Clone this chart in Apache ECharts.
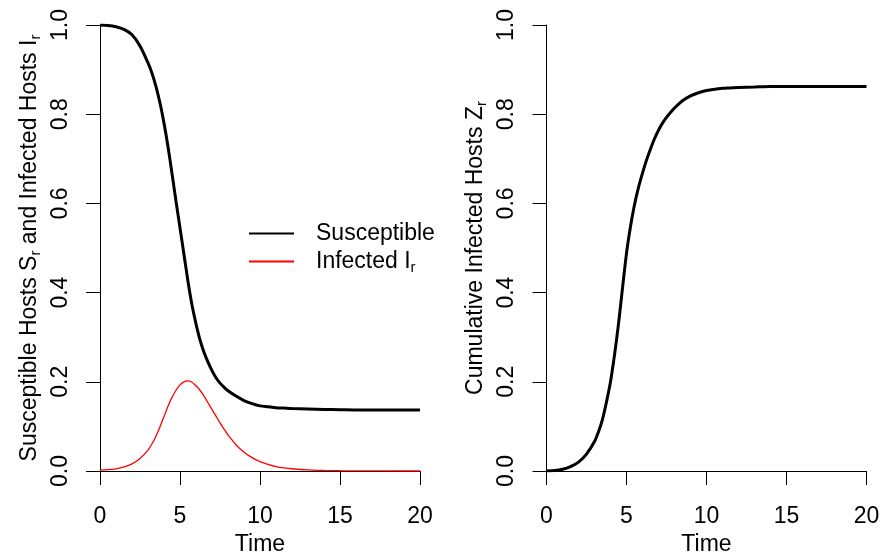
<!DOCTYPE html>
<html>

<head>
    <meta charset="UTF-8">
    <style type="text/css">
        body {
            margin: 0;
            padding: 0;
            overflow: hidden;
            background: #fff
        }

        #chart {
            width: 881px;
            height: 553px
        }
    </style>
</head>

<body>
    <div id="chart"></div>
    <script src="https://cdn.jsdelivr.net/npm/echarts@6.0.0/dist/echarts.min.js"></script>
    <script>
        // time points (denser where the curves are steep)
        let TIME = [0, 0.5, 1, 1.5, 2, 2.5, 3,
            3.25, 3.5, 3.75, 4, 4.25, 4.5, 4.75, 5, 5.25, 5.5, 5.75, 6, 6.25, 6.5, 6.75, 7, 7.25, 7.5, 7.75, 8,
            8.5, 9, 9.5, 10, 10.5, 11, 11.5, 12,
            13, 14, 15, 16, 17, 18, 19, 20];
        let SUSCEPTIBLE = [1.000, 0.999, 0.996, 0.990, 0.978, 0.953, 0.915,
            0.892, 0.862, 0.825, 0.780, 0.727, 0.667, 0.605, 0.545, 0.485, 0.425, 0.372, 0.330, 0.294, 0.266, 0.244, 0.225, 0.209, 0.197, 0.188, 0.180,
            0.168, 0.158, 0.151, 0.146, 0.144, 0.142, 0.141, 0.140,
            0.139, 0.138, 0.1375, 0.137, 0.137, 0.137, 0.137, 0.137];
        let INFECTED = [0.002, 0.003, 0.005, 0.009, 0.016, 0.028, 0.047,
            0.061, 0.078, 0.099, 0.122, 0.145, 0.165, 0.181, 0.193, 0.200, 0.202, 0.199, 0.191, 0.181, 0.168, 0.153, 0.138, 0.123, 0.108, 0.094, 0.081,
            0.059, 0.042, 0.030, 0.021, 0.015, 0.010, 0.007, 0.005,
            0.0025, 0.0012, 0.0006, 0.0003, 0.0001, 0.0001, 0, 0];
        let CUMULATIVE = [0.000, 0.001, 0.004, 0.010, 0.020, 0.038, 0.066,
            0.088, 0.116, 0.155, 0.200, 0.260, 0.330, 0.410, 0.488, 0.548, 0.597, 0.636, 0.668, 0.697, 0.722, 0.745, 0.764, 0.780, 0.793, 0.804, 0.814,
            0.830, 0.841, 0.848, 0.853, 0.856, 0.858, 0.859, 0.860,
            0.861, 0.862, 0.862, 0.862, 0.862, 0.862, 0.862, 0.862];

        let FONT = '"Liberation Sans", Arial, sans-serif';
        let SUB = { fontSize: 15, padding: [12, 0, 0, 0], fontFamily: FONT, color: '#000' };

        function pairs(ys) {
            return TIME.map((t, i) => [t, ys[i]]);
        }

        function xAxis(idx) {
            return {
                type: 'value',
                gridIndex: idx,
                min: 0,
                max: 20,
                interval: 5,
                name: 'Time',
                nameLocation: 'middle',
                nameGap: 59,
                nameTextStyle: { fontSize: 23, color: '#000', fontFamily: FONT },
                axisLine: { onZero: false, lineStyle: { color: '#000', width: 1 } },
                axisTick: { length: 14, lineStyle: { color: '#000', width: 1 } },
                axisLabel: { margin: 34, fontSize: 23, color: '#000', fontFamily: FONT },
                splitLine: { show: false }
            };
        }

        function yAxis(idx, title) {
            return {
                type: 'value',
                gridIndex: idx,
                min: 0,
                max: 1,
                interval: 0.2,
                name: title,
                nameLocation: 'middle',
                nameGap: 57,
                nameTextStyle: { fontSize: 23, color: '#000', fontFamily: FONT, rich: { sub: SUB } },
                axisLine: { show: true, onZero: false, lineStyle: { color: '#000', width: 1 } },
                axisTick: { show: true, length: 14, lineStyle: { color: '#000', width: 1 } },
                axisLabel: {
                    rotate: 90, margin: 28, fontSize: 23, color: '#000', fontFamily: FONT,
                    formatter: v => v.toFixed(1)
                },
                splitLine: { show: false }
            };
        }

        function curve(name, idx, ys, color, width) {
            return {
                name: name,
                type: 'line',
                xAxisIndex: idx,
                yAxisIndex: idx,
                data: pairs(ys),
                showSymbol: false,
                symbol: 'none',
                smooth: 0.3,
                lineStyle: { color: color, width: width },
                itemStyle: { color: color }
            };
        }

        var myChart = echarts.init(document.getElementById('chart'));

        let option = {
            animation: false,
            backgroundColor: '#fff',
            grid: [
                { left: 100, top: 25, width: 320, height: 446, outerBoundsMode: 'none', containLabel: false },
                { left: 546.5, top: 25, width: 320, height: 446, outerBoundsMode: 'none', containLabel: false }
            ],
            xAxis: [xAxis(0), xAxis(1)],
            yAxis: [
                yAxis(0, 'Susceptible Hosts S{sub|r} and Infected Hosts I{sub|r}'),
                yAxis(1, 'Cumulative Infected Hosts Z{sub|r}')
            ],
            legend: {
                data: ['Susceptible', 'Infected'],
                orient: 'vertical',
                left: 248,
                top: 222,
                padding: 0,
                itemWidth: 45,
                itemHeight: 14,
                itemGap: 5,
                itemStyle: { opacity: 0, borderWidth: 0 },
                formatter: function (name) {
                    return name === 'Infected' ? 'Infected I{sub|r}' : name;
                },
                textStyle: {
                    fontSize: 23, color: '#000', fontFamily: FONT, padding: [0, 0, 0, 17],
                    rich: { sub: SUB }
                }
            },
            series: [
                curve('Susceptible', 0, SUSCEPTIBLE, '#000', 3),
                curve('Infected', 0, INFECTED, '#ff0000', 1.3),
                curve('Cumulative', 1, CUMULATIVE, '#000', 3)
            ]
        };
        myChart.setOption(option);
    </script>
</body>

</html>
